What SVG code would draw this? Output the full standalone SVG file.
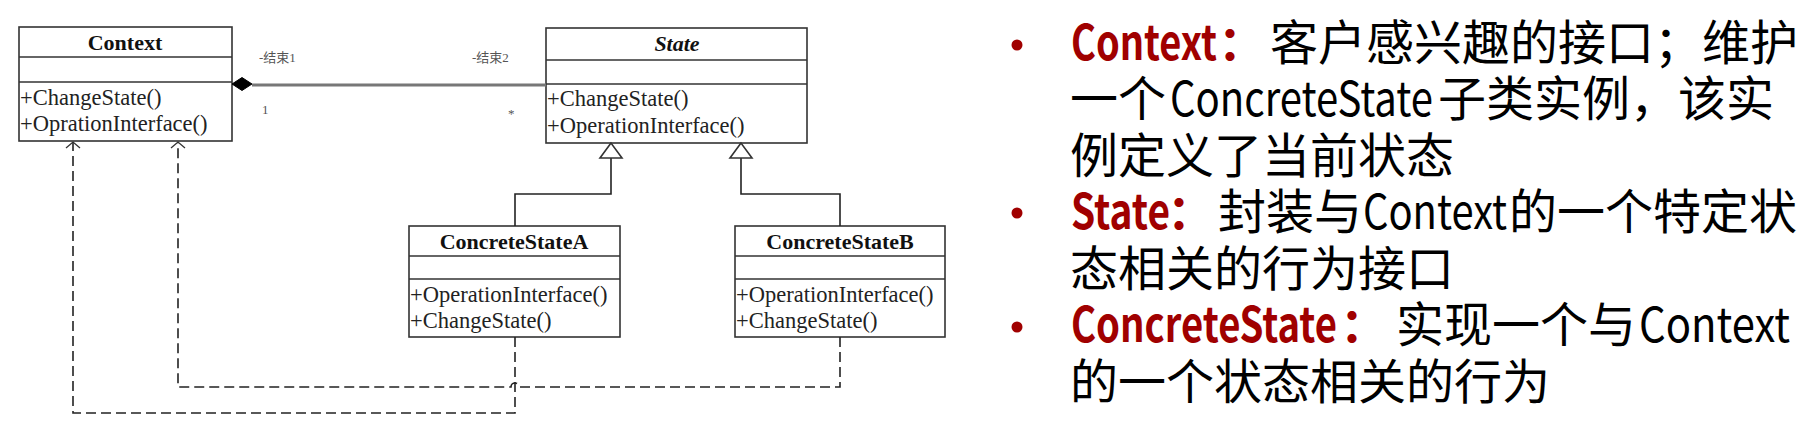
<svg xmlns="http://www.w3.org/2000/svg" width="1815" height="438" viewBox="0 0 1815 438">
<style>
.box{fill:#fff;stroke:#333;stroke-width:1.6}
.div{stroke:#333;stroke-width:1.6}
.title{font-family:"Liberation Serif","Times New Roman",serif;font-size:22px;font-weight:bold;fill:#111;text-anchor:middle}
.meth{font-family:"Liberation Serif","Times New Roman",serif;font-size:22.5px;fill:#222}
.lbl{font-family:"Liberation Serif","Noto Sans CJK SC",serif;font-size:13px;fill:#555}
.gen{fill:none;stroke:#222;stroke-width:1.6}
.dep{fill:none;stroke:#222;stroke-width:1.6;stroke-dasharray:10 5}
.assoc{fill:none;stroke:#777;stroke-width:3}
.head{fill:none;stroke:#333;stroke-width:1.3}
.tri{fill:#fff;stroke:#333;stroke-width:1.6}
.t{font-family:"Noto Sans CJK SC","Noto Sans",sans-serif;font-size:48px;fill:#000}
.r{font-weight:bold;fill:#A00000}
.bul{fill:#A00000}
</style>
<rect width="1815" height="438" fill="#fff"/>

<g id="context">
<rect class="box" x="19" y="27" width="213" height="114"/>
<line class="div" x1="19" y1="57" x2="232" y2="57"/>
<line class="div" x1="19" y1="82" x2="232" y2="82"/>
<text class="title" x="125" y="50">Context</text>
<text class="meth" x="20" y="105">+ChangeState()</text>
<text class="meth" x="20" y="131">+OprationInterface()</text>
</g>

<g id="state">
<rect class="box" x="546" y="28" width="261" height="115"/>
<line class="div" x1="546" y1="60" x2="807" y2="60"/>
<line class="div" x1="546" y1="84" x2="807" y2="84"/>
<text class="title" x="677" y="51" font-style="italic">State</text>
<text class="meth" x="547" y="106">+ChangeState()</text>
<text class="meth" x="547" y="133">+OperationInterface()</text>
</g>

<g id="concreteStateA">
<rect class="box" x="409" y="226" width="211" height="111"/>
<line class="div" x1="409" y1="256" x2="620" y2="256"/>
<line class="div" x1="409" y1="279" x2="620" y2="279"/>
<text class="title" x="514" y="249">ConcreteStateA</text>
<text class="meth" x="410" y="302">+OperationInterface()</text>
<text class="meth" x="410" y="328">+ChangeState()</text>
</g>

<g id="concreteStateB">
<rect class="box" x="735" y="226" width="210" height="111"/>
<line class="div" x1="735" y1="256" x2="945" y2="256"/>
<line class="div" x1="735" y1="279" x2="945" y2="279"/>
<text class="title" x="840" y="249">ConcreteStateB</text>
<text class="meth" x="736" y="302">+OperationInterface()</text>
<text class="meth" x="736" y="328">+ChangeState()</text>
</g>

<g id="connectors">
<path class="assoc" d="M252,85 L546,85"/>
<polygon points="232,84 242,77.5 252,84 242,90.5" fill="#000" stroke="#000" stroke-width="1"/>
<text class="lbl" x="259" y="62">-结束1</text>
<text class="lbl" x="262" y="114">1</text>
<text class="lbl" x="472" y="62">-结束2</text>
<text class="lbl" x="508" y="118">*</text>
<path class="gen" d="M611,158 L611,194 L515,194 L515,226"/>
<path class="gen" d="M741,158 L741,194 L840,194 L840,226"/>
<polygon class="tri" points="611,143 600,158 622,158"/>
<polygon class="tri" points="741,143 730,158 752,158"/>
<path class="dep" d="M515,337 L515,413 L73,413 L73,142"/>
<path class="dep" d="M840,337 L840,387 L519,387 A4,4 0 0 0 511,387 L178,387 L178,142"/>
<path class="head" d="M66,148 L73,142 L80,148"/>
<path class="head" d="M171,148 L178,142 L185,148"/>
</g>

<g id="description">
<circle class="bul" cx="1017" cy="45" r="5.5"/>
<circle class="bul" cx="1017" cy="213" r="5.5"/>
<circle class="bul" cx="1017" cy="327" r="5.5"/>

<text class="t" y="60"><tspan class="r" x="1071" textLength="146" lengthAdjust="spacingAndGlyphs">Context</tspan><tspan class="r" x="1218">：</tspan><tspan x="1270">客户感兴趣的接口；维护</tspan></text>

<text class="t" y="116"><tspan x="1070">一个</tspan><tspan x="1170" textLength="263" lengthAdjust="spacingAndGlyphs">ConcreteState</tspan><tspan x="1438">子类实例，该实</tspan></text>

<text class="t" x="1070" y="173">例定义了当前状态</text>

<text class="t" y="229"><tspan class="r" x="1071" textLength="99" lengthAdjust="spacingAndGlyphs">State</tspan><tspan class="r" x="1167">：</tspan><tspan x="1218">封装与</tspan><tspan x="1363" textLength="144" lengthAdjust="spacingAndGlyphs">Context</tspan><tspan x="1509">的一个特定状</tspan></text>

<text class="t" x="1070" y="286">态相关的行为接口</text>

<text class="t" y="342"><tspan class="r" x="1071" textLength="266" lengthAdjust="spacingAndGlyphs">ConcreteState</tspan><tspan class="r" x="1340">：</tspan><tspan x="1396">实现一个与</tspan><tspan x="1639" textLength="151" lengthAdjust="spacingAndGlyphs">Context</tspan></text>

<text class="t" x="1070" y="399">的一个状态相关的行为</text>
</g>
</svg>
